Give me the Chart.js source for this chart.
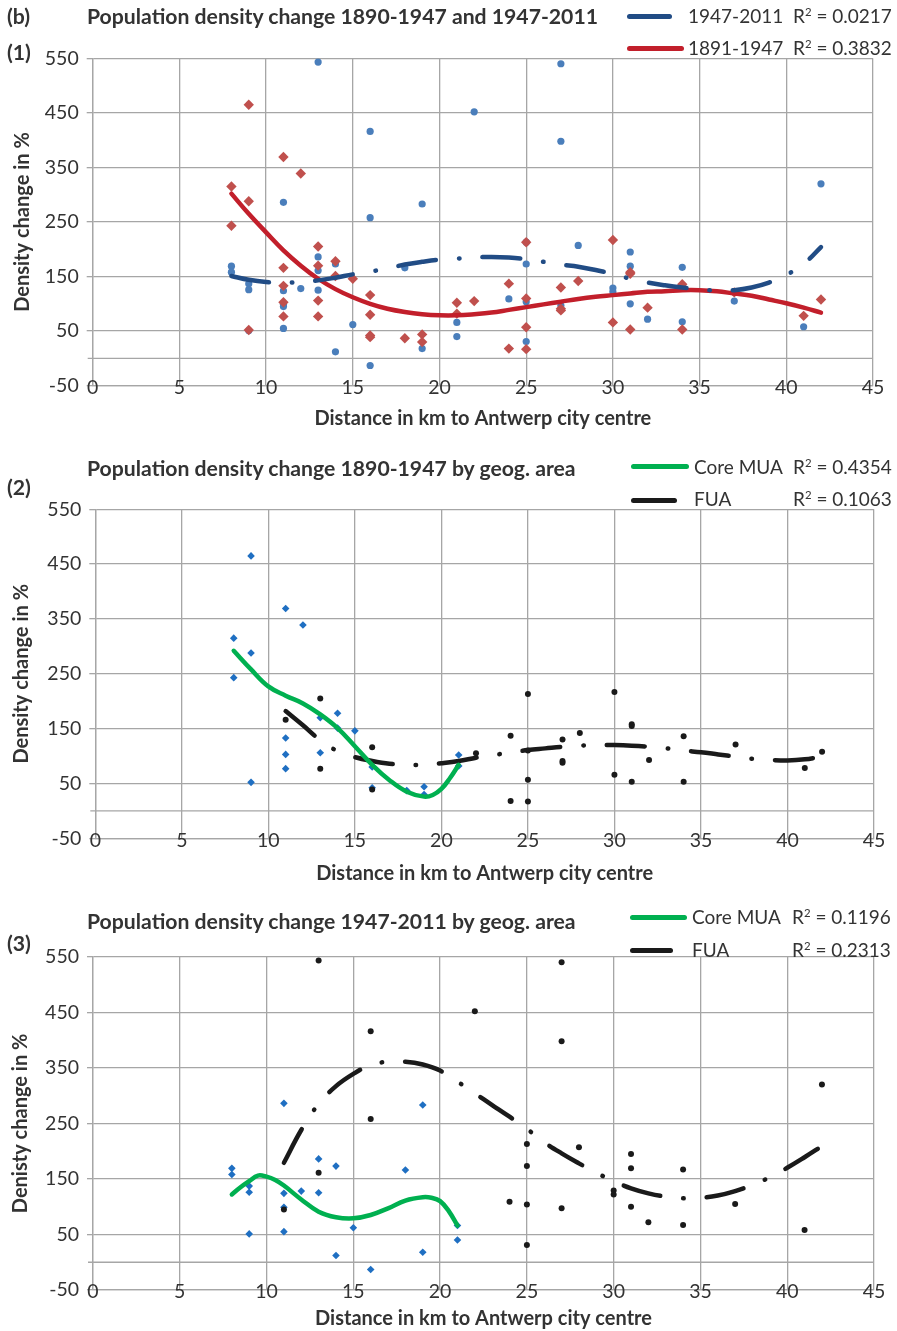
<!DOCTYPE html>
<html>
<head>
<meta charset="utf-8">
<script src="https://cdn.jsdelivr.net/npm/chart.js@4.4.1/dist/chart.umd.min.js"></script>
<style>
  body { margin: 0; width: 897px; height: 1331px; position: relative; background: #fff;
         font-family: Lato, sans-serif; color: #333; overflow: hidden; }
  canvas { position: absolute; left: 0; }
  .t { position: absolute; white-space: nowrap; line-height: 1; }
  .b { font-weight: bold; font-size: 21.2px; }
  .lg { font-size: 19px; }
  .bar { position: absolute; height: 5px; border-radius: 3px; }
  sup { font-size: .6em; vertical-align: .6em; line-height: 0; }
</style>
</head>
<body>
<canvas id="c1"></canvas>
<canvas id="c2"></canvas>
<canvas id="c3"></canvas>

<!-- (1) -->
<div class="t b" style="left:7px;top:6px">(b)</div>
<div class="t b" style="left:87px;top:6px">Population density change 1890-1947 and 1947-2011</div>
<div class="t b" style="left:7px;top:42px">(1)</div>
<div class="bar" style="left:627px;width:45px;top:13.5px;background:#214c85"></div>
<div class="t lg" style="left:688px;top:6px">1947-2011</div>
<div class="t lg" style="left:793px;top:6px">R<sup>2</sup> = 0.0217</div>
<div class="bar" style="left:627px;width:57px;top:46px;background:#c21f2b"></div>
<div class="t lg" style="left:688px;top:38px">1891-1947</div>
<div class="t lg" style="left:793px;top:38px">R<sup>2</sup> = 0.3832</div>

<!-- (2) -->
<div class="t b" style="left:87px;top:458px">Population density change 1890-1947 by geog. area</div>
<div class="t b" style="left:7px;top:477px">(2)</div>
<div class="bar" style="left:631px;width:58px;top:464px;background:#00b050"></div>
<div class="t lg" style="left:694px;top:457px">Core MUA</div>
<div class="t lg" style="left:793px;top:457px">R<sup>2</sup> = 0.4354</div>
<div class="bar" style="left:631px;width:46px;top:497.5px;background:#1a1a1a"></div>
<div class="t lg" style="left:694px;top:489px">FUA</div>
<div class="t lg" style="left:793px;top:489px">R<sup>2</sup> = 0.1063</div>

<!-- (3) -->
<div class="t b" style="left:87px;top:911px">Population density change 1947-2011 by geog. area</div>
<div class="t b" style="left:7px;top:933px">(3)</div>
<div class="bar" style="left:630px;width:57px;top:915px;background:#00b050"></div>
<div class="t lg" style="left:692px;top:907px">Core MUA</div>
<div class="t lg" style="left:792px;top:907px">R<sup>2</sup> = 0.1196</div>
<div class="bar" style="left:630px;width:43px;top:947.5px;background:#1a1a1a"></div>
<div class="t lg" style="left:692px;top:940px">FUA</div>
<div class="t lg" style="left:792px;top:940px">R<sup>2</sup> = 0.2313</div>

<script>
// ---- points: distance (km) and density change (%) ----
// 1890-1947, Core MUA
const core47X = [8, 8, 9, 9, 9, 11, 11, 11, 11, 12, 13, 13, 14, 14, 15, 16, 16, 18, 19, 19, 21, 21];
const core47Y = [315, 243, 465, 288, 52, 369, 133, 103, 77, 339, 170, 106, 178, 151, 146, 80, 42, 37, 44, 30, 102, 82];
// 1890-1947, FUA
const fua47X = [11, 13, 13, 16, 16, 22, 24, 24, 25, 25, 25, 25, 27, 27, 27, 28, 30, 30, 31, 31, 31, 32, 34, 34, 37, 41, 42];
const fua47Y = [166, 205, 77, 116, 39, 105, 137, 18, 213, 110, 57, 17, 130, 91, 88, 142, 217, 66, 158, 155, 53, 93, 136, 53, 121, 78, 108];
// 1947-2011, Core MUA
const core11X = [8, 8, 9, 9, 9, 11, 11, 11, 11, 12, 13, 13, 14, 14, 15, 16, 18, 19, 19, 21, 21];
const core11Y = [169, 158, 137, 126, 51, 286, 124, 99, 55, 128, 186, 125, 173, 12, 62, -13, 166, 283, 18, 66, 40];
// 1947-2011, FUA
const fua11X = [11, 13, 13, 16, 16, 22, 24, 25, 25, 25, 25, 27, 27, 27, 28, 30, 30, 31, 31, 31, 32, 34, 34, 37, 41, 42];
const fua11Y = [95, 543, 161, 416, 258, 452, 109, 213, 173, 104, 31, 540, 398, 97, 207, 129, 122, 195, 169, 100, 72, 167, 67, 105, 58, 320];

// ---- trend lines, sampled off the figure ----
const trend4711X = [8, 9, 10, 11, 12, 13, 14, 15, 16, 17, 18, 19, 20, 21, 22, 23, 24, 25, 26, 27, 28, 29, 30, 31, 32, 33, 34, 35, 36, 37, 38, 39, 40, 41, 42];
const trend4711Y = [151, 144, 140, 139, 140, 143, 148, 154, 159, 165, 172, 177, 181, 183, 185, 186, 185, 182, 177, 172, 168, 162, 155, 146, 139, 134, 130, 127, 124, 125, 130, 139, 153, 173, 204];
const trend9147X = [8, 9, 10, 11, 12, 13, 14, 15, 16, 17, 18, 19, 20, 21, 22, 23, 24, 25, 26, 27, 28, 29, 30, 31, 32, 33, 34, 35, 36, 37, 38, 39, 40, 41, 42];
const trend9147Y = [302, 265, 231, 198, 170, 146, 127, 112, 100, 91, 85, 81, 79, 79, 81, 84, 89, 94, 99, 104, 109, 113, 116, 119, 122, 123, 125, 125, 123, 119, 115, 108, 101, 93, 84];
const trendCore47X = [8, 9, 10, 11, 12, 13, 14, 15, 16, 17, 18, 19, 19.5, 20, 20.5, 21];
const trendCore47Y = [292, 258, 227, 210, 196, 176, 151, 118, 84, 56, 35, 26, 29, 40, 60, 84];
const trendFua47X = [11, 12, 13, 14, 15, 16, 17, 18, 19, 20, 21, 22, 23, 24, 25, 26, 27, 28, 29, 30, 31, 32, 33, 34, 35, 36, 37, 38, 39, 40, 41, 42];
const trendFua47Y = [182, 156, 129, 109, 98, 91, 86, 84, 84, 87, 91, 97, 102, 106, 111, 114, 117, 119, 120, 120, 119, 117, 114, 110, 107, 103, 99, 95, 93, 92, 94, 99];
const trendCore11X = [8, 8.5, 9, 9.5, 10, 10.5, 11, 12, 13, 14, 15, 16, 17, 18, 19, 19.5, 20, 20.5, 21];
const trendCore11Y = [122, 135, 146, 156, 154, 148, 138, 113, 91, 81, 79, 85, 97, 111, 117, 116, 110, 92, 66];
const trendFua11X = [11, 12, 13, 14, 15, 16, 17, 18, 19, 20, 21, 22, 23, 24, 25, 26, 27, 28, 29, 30, 31, 32, 33, 34, 35, 36, 37, 38, 39, 40, 41, 42];
const trendFua11Y = [179, 238, 285, 317, 339, 355, 361, 361, 356, 345, 325, 304, 283, 262, 240, 216, 196, 178, 161, 146, 133, 124, 118, 115, 116, 120, 128, 139, 153, 170, 189, 209];

const xTickValues = [0, 5, 10, 15, 20, 25, 30, 35, 40, 45];
const yTickValues = [-50, 50, 150, 250, 350, 450, 550];

const grid = '#a6a6a6';
const tickSize = 19.5;

// excel draws the horizontal axis at 0
const zeroLine = {
  id: 'zeroLine',
  beforeDatasetsDraw(chart) {
    const { ctx, chartArea: a, scales: { y } } = chart;
    const py = y.getPixelForValue(0);
    ctx.save();
    ctx.strokeStyle = grid;
    ctx.lineWidth = 1.3;
    ctx.beginPath();
    ctx.moveTo(a.left - 5, py);
    ctx.lineTo(a.right, py);
    ctx.stroke();
    ctx.restore();
  }
};

// x labels sit on the bottom border (chart.js would clip them there)
const xLabels = {
  id: 'xLabels',
  afterDraw(chart) {
    const { ctx, chartArea: a, scales: { x } } = chart;
    ctx.save();
    ctx.font = tickSize + 'px Lato';
    ctx.fillStyle = '#333';
    ctx.textAlign = 'center';
    ctx.textBaseline = 'middle';
    xTickValues.forEach(v => ctx.fillText(String(v), x.getPixelForValue(v), a.bottom + 2));
    ctx.restore();
  }
};

function pts(xs, ys) {
  return xs.map((x, i) => ({ x: x, y: ys[i] }));
}

function scatterSet(xs, ys, color, style, r, order) {
  return {
    type: 'scatter', data: pts(xs, ys), backgroundColor: color, borderWidth: 0,
    pointStyle: style, pointRadius: r, order: order
  };
}

function trendSet(xs, ys, color, dashed) {
  return {
    type: 'line', data: pts(xs, ys), borderColor: color, borderWidth: 4.5,
    borderDash: dashed ? [38, 23, 0.5, 23] : [], borderCapStyle: 'round',
    pointRadius: 0, tension: 0.4, fill: false, order: 0
  };
}

function makeChart(id, box, yTitle, datasets) {
  const canvas = document.getElementById(id);
  canvas.style.top = box.top + 'px';
  canvas.width = 897;
  canvas.height = box.height;
  const tickFont = { family: 'Lato', size: tickSize };
  const titleFont = { family: 'Lato', size: 20, weight: 'bold' };
  const lh = titleFont.size * 1.2;

  return new Chart(canvas, {
    data: { datasets: datasets },
    plugins: [zeroLine, xLabels],
    options: {
      responsive: false,
      animation: false,
      events: [],
      layout: { padding: { top: box.plotTop - box.top, right: 897 - box.plotRight, left: 0, bottom: 0 } },
      plugins: { legend: { display: false }, tooltip: { enabled: false } },
      scales: {
        x: {
          type: 'linear', min: 0, max: 45,
          afterBuildTicks: s => { s.ticks = xTickValues.map(v => ({ value: v })); },
          afterFit: s => { s.height = box.top + box.height - box.plotBottom; },
          ticks: { display: false },
          grid: { color: grid, lineWidth: 1.3, drawTicks: false },
          border: { color: grid, width: 1.3 },
          title: {
            display: true, text: 'Distance in km to Antwerp city centre', font: titleFont, color: '#333',
            padding: { top: 0, bottom: box.top + box.height - box.xTitleY - lh / 2 }
          }
        },
        y: {
          type: 'linear', min: -50, max: 550,
          afterBuildTicks: s => { s.ticks = yTickValues.map(v => ({ value: v })); },
          afterFit: s => { s.width = box.plotLeft; },
          ticks: { font: tickFont, color: '#333', padding: 8 },
          grid: { color: grid, lineWidth: 1.3, tickLength: 6 },
          border: { color: grid, width: 1.3 },
          title: {
            display: true, text: yTitle, font: titleFont, color: '#333',
            padding: { top: box.yTitleX - lh / 2, bottom: 0 }
          }
        }
      }
    }
  });
}

// (1) both periods
makeChart('c1',
  { top: 0, height: 445, plotTop: 58.3, plotBottom: 385.7, plotLeft: 92.7, plotRight: 873, xTitleY: 419, yTitleX: 22.5 },
  'Density change in %',
  [
    trendSet(trend4711X, trend4711Y, '#214c85', true),
    trendSet(trend9147X, trend9147Y, '#c21f2b', false),
    scatterSet(core47X.concat(fua47X), core47Y.concat(fua47Y), '#c0504d', 'rectRot', 5.2, 2),
    scatterSet(core11X.concat(fua11X), core11Y.concat(fua11Y), '#4a7ebb', 'circle', 3.6, 3)
  ]);

// (2) 1890-1947 by area
makeChart('c2',
  { top: 445, height: 445, plotTop: 509.3, plotBottom: 838.3, plotLeft: 95.3, plotRight: 874, xTitleY: 874, yTitleX: 22 },
  'Density change in %',
  [
    trendSet(trendCore47X, trendCore47Y, '#00b050', false),
    trendSet(trendFua47X, trendFua47Y, '#1a1a1a', true),
    scatterSet(fua47X, fua47Y, '#1a1a1a', 'circle', 3, 2),
    scatterSet(core47X, core47Y, '#1f6fc2', 'rectRot', 3.8, 3)
  ]);

// (3) 1947-2011 by area
makeChart('c3',
  { top: 890, height: 441, plotTop: 956.7, plotBottom: 1290, plotLeft: 93, plotRight: 874, xTitleY: 1319, yTitleX: 20.5 },
  'Denisty change in %',
  [
    trendSet(trendCore11X, trendCore11Y, '#00b050', false),
    trendSet(trendFua11X, trendFua11Y, '#1a1a1a', true),
    scatterSet(fua11X, fua11Y, '#1a1a1a', 'circle', 3, 2),
    scatterSet(core11X, core11Y, '#1f6fc2', 'rectRot', 3.8, 3)
  ]);
</script>
</body>
</html>
